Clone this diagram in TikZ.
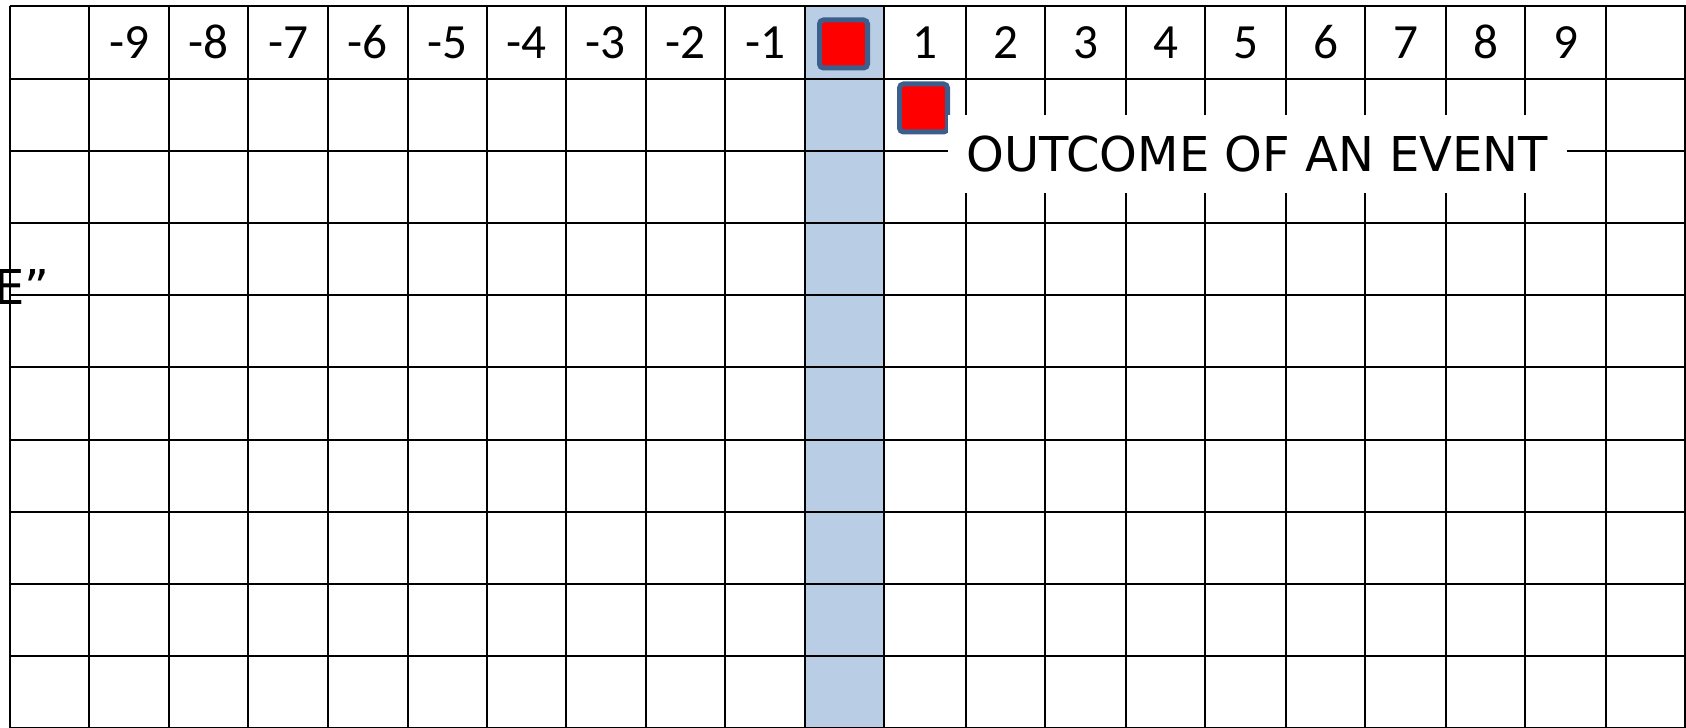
\documentclass[tikz,border=0pt]{standalone}
\usepackage{fontspec}
\usepackage{tikz}
\newfontfamily\labelfont{DejaVu Sans}
\newfontfamily\numfont{Carlito}
\definecolor{zeroblue}{HTML}{B9CDE5}
\definecolor{markerline}{HTML}{3B5E8C}
\tikzset{
  gridline/.style={line width=0.57pt,black},
  numlabel/.style={anchor=base,inner sep=0pt,font=\numfont\fontsize{14}{16}\selectfont},
  marker/.style={draw=markerline,fill=red,line width=0.05cm,rounded corners=0.04cm,
    minimum size=0.48cm,inner sep=0pt},
  eventbox/.style={fill=white,inner sep=0pt,minimum width=6.19cm,minimum height=0.78cm,
    font=\labelfont\fontsize{13.66}{16}\selectfont}
}
\begin{document}
\begin{tikzpicture}
\useasboundingbox (0,0) rectangle (16.86,7.28);
% text behind the grid, cut by the left edge
\node[anchor=base west,inner sep=0pt,font=\labelfont\fontsize{13.66}{16}\selectfont] (space) at (-0.067,4.23) {E”};
% zero column
\fill[zeroblue] (8.05,-0.01) rectangle (8.844,7.2155);
% table lines
\foreach \x in {0.097,0.892,1.694,2.484,3.28,4.075,4.87,5.66,6.457,7.25,8.05,
                8.844,9.66,10.45,11.26,12.05,12.86,13.65,14.46,15.25,16.06,16.85}
  \draw[gridline] (\x,-0.01) -- (\x,7.2155);
\foreach \k in {0,...,10}
  \draw[gridline] (0.097,7.2155-\k*0.722) -- (16.9,7.2155-\k*0.722);
% header numbers
\foreach \x/\n in {1.293/-9,2.089/-8,2.882/-7,3.678/-6,4.473/-5,5.265/-4,6.059/-3,6.854/-2,7.65/-1}
  \node[numlabel] (num\n) at (\x,6.695) {\n};
\foreach \x/\n in {9.252/1,10.055/2,10.855/3,11.655/4,12.455/5,13.255/6,14.055/7,14.855/8,15.655/9}
  \node[numlabel] (num\n) at (\x,6.695) {\n};
\node[marker] (zero) at (8.435,6.84) {};
\node[marker] (event) at (9.235,6.20) {};
\node[eventbox] (outcome) at (12.575,5.74) {OUTCOME OF AN EVENT};
\end{tikzpicture}
\end{document}
